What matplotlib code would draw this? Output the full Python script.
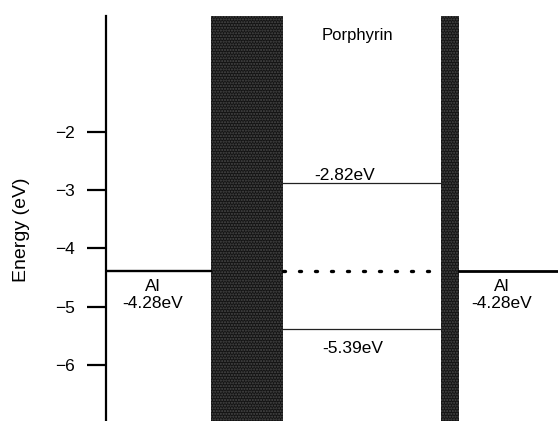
import matplotlib.pyplot as plt
from matplotlib.patches import Rectangle

plt.rcParams['font.family'] = ['Liberation Sans', 'DejaVu Sans']

# energy levels as drawn (eV) and their printed labels
al_level = -4.38
lumo_level = -2.88
homo_level = -5.38
al_label = "Al\n-4.28eV"
lumo_label = "-2.82eV"
homo_label = "-5.39eV"
yticks = [-2, -3, -4, -5, -6]
ytick_labels = ["\u22122", "\u22123", "\u22124", "\u22125", "\u22126"]

# layer positions along x (arbitrary units from the axis)
left_al = (0, 105)
ito_left = (105, 177)
porphyrin = (177, 335)
ito_right = (335, 353)
right_al = (353, 452)

fig = plt.figure(figsize=(5.58, 4.21), dpi=100)
ax = fig.add_axes([106 / 558, 0, 452 / 558, 1 - 16 / 421])
ax.set_xlim(0, 452)
ax.set_ylim(-6.97, 0)

for sp in ["top", "right", "bottom"]:
    ax.spines[sp].set_visible(False)
ax.spines["left"].set_linewidth(1.6)
ax.set_xticks([])
ax.set_yticks(yticks)
ax.set_yticklabels(ytick_labels, fontsize=12.5)
ax.tick_params(axis="y", direction="out", length=13.5, width=1.6, pad=9)

# dark electrode bars
for x0, x1 in [ito_left, ito_right]:
    ax.add_patch(Rectangle((x0, -7.2), x1 - x0, 7.2, facecolor="#141414",
                           edgecolor="#4a4a4a", hatch="......", lw=0))

# Al levels
ax.plot(left_al, [al_level, al_level], color="black", lw=1.7)
ax.plot(right_al, [al_level, al_level], color="black", lw=2.0)
ax.plot(porphyrin, [al_level, al_level], color="black", lw=2.4,
        dashes=(0.6, 4.2), dash_capstyle="round")

# porphyrin levels
ax.plot(porphyrin, [lumo_level, lumo_level], color="#222222", lw=0.9)
ax.plot(porphyrin, [homo_level, homo_level], color="#222222", lw=0.9)

ax.text(251, -0.33, "Porphyrin", ha="center", va="center", fontsize=12)
ax.text(239, -2.74, lumo_label, ha="center", va="center", fontsize=12.5)
ax.text(247, -5.73, homo_label, ha="center", va="center", fontsize=12.5)
ax.text(47, -4.8, al_label, ha="center", va="center", fontsize=12.5,
        linespacing=1.2)
ax.text(396, -4.8, al_label, ha="center", va="center", fontsize=12.5,
        linespacing=1.2)

fig.text(22 / 558, 1 - 230 / 421, "Energy (eV)", rotation=90,
         ha="center", va="center", fontsize=14)

fig.savefig("out.png", dpi=100)
